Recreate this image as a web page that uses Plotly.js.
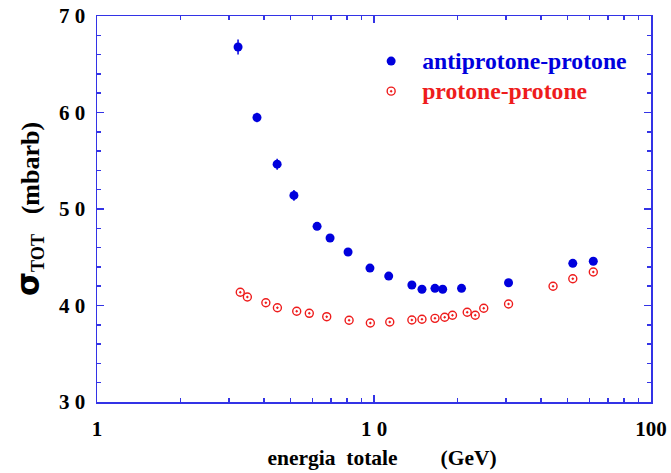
<!DOCTYPE html>
<html>
<head>
<meta charset="utf-8">
<script src="https://cdn.plot.ly/plotly-3.0.1.min.js"></script>
<style>html,body{margin:0;padding:0;background:#fff;}#chart{width:671px;height:473px;}</style>
</head>
<body>
<div id="chart"></div>
<script>
// antiproton-proton total cross section
const energyPbarP = [3.23, 3.78, 4.47, 5.14, 6.23, 6.94, 8.06, 9.67, 11.3, 13.7, 14.9, 16.6, 17.7, 20.7, 30.6, 52.2, 61.9];
const sigmaPbarP  = [66.79, 59.48, 54.65, 51.41, 48.2, 47.0, 45.54, 43.88, 43.05, 42.12, 41.68, 41.78, 41.68, 41.78, 42.36, 44.37, 44.58];
const errPbarP    = [0.78, 0.5, 0.57, 0.55, 0, 0, 0, 0, 0, 0, 0, 0, 0, 0, 0, 0, 0];
// proton-proton total cross section
const energyPP = [3.29, 3.49, 4.07, 4.48, 5.26, 5.84, 6.75, 8.13, 9.7, 11.4, 13.7, 14.9, 16.6, 18.0, 19.2, 21.7, 23.2, 24.9, 30.6, 44.3, 52.2, 61.9];
const sigmaPP  = [41.37, 40.88, 40.29, 39.77, 39.4, 39.19, 38.84, 38.47, 38.19, 38.29, 38.5, 38.57, 38.67, 38.78, 38.99, 39.3, 38.99, 39.71, 40.16, 42.0, 42.77, 43.47];

const xTickVals = [1, 10, 100];
const xTickText = ['1', '1 0', '100'];
const yTickVals = [30, 40, 50, 60, 70];
const yTickText = ['3 0', '4 0', '5 0', '6 0', '7 0'];
const xMinorVals = [2,3,4,5,6,7,8,9,20,30,40,50,60,70,80,90];

const blue = '#0000dd';
const red = '#ee1c1c';
const axisColor = '#3333e6';
const serif = 'Liberation Serif, Times New Roman, serif';

const traces = [
  {
    x: energyPbarP, y: sigmaPbarP, type: 'scatter', mode: 'markers',
    name: '<span style="color:' + blue + ';font-size:23.7px">antiprotone-protone</span>',
    marker: {color: blue, size: 9, symbol: 'circle'},
    error_y: {type: 'data', array: errPbarP, visible: true, color: blue, thickness: 1.5, width: 0}
  },
  {
    x: energyPP, y: sigmaPP, type: 'scatter', mode: 'markers',
    name: '<span style="color:' + red + ';font-size:23.7px">protone-protone</span>',
    marker: {color: red, size: 8, symbol: 'circle-open-dot', line: {color: red, width: 1.4}}
  }
];

const layout = {
  width: 671, height: 473,
  margin: {l: 97, r: 20, t: 16, b: 71},
  paper_bgcolor: '#fff', plot_bgcolor: '#fff',
  font: {family: serif, size: 20, color: '#000', weight: 'bold'},
  showlegend: true,
  legend: {
    x: 0.475, y: 0.935, xanchor: 'left', yanchor: 'top',
    itemwidth: 52, bgcolor: 'rgba(0,0,0,0)',
    font: {family: serif, size: 20.8, weight: 'bold'}
  },
  xaxis: {
    type: 'log', range: [0, 2],
    tickmode: 'array', tickvals: xTickVals, ticktext: xTickText,
    ticks: 'inside', ticklen: 7, tickwidth: 1.5, tickcolor: axisColor,
    minor: {tickmode: 'array', tickvals: xMinorVals, ticks: 'inside', ticklen: 4, tickwidth: 1.5, tickcolor: axisColor, showgrid: false},
    showline: true, linecolor: axisColor, linewidth: 1.5, mirror: 'allticks',
    showgrid: false, zeroline: false,
    ticklabelstandoff: 7,
    tickfont: {family: serif, size: 21, weight: 'bold'},
    title: {text: '\u200b\u00a0\u00a0\u00a0energia\u00a0\u00a0totale\u00a0\u00a0\u00a0\u00a0\u00a0\u00a0\u00a0\u00a0(GeV)', font: {family: serif, size: 21.5, weight: 'bold'}, standoff: 10}
  },
  yaxis: {
    range: [30, 70],
    tickmode: 'array', tickvals: yTickVals, ticktext: yTickText,
    ticks: 'inside', ticklen: 7, tickwidth: 1.5, tickcolor: axisColor,
    minor: {dtick: 2, ticks: 'inside', ticklen: 4, tickwidth: 1.5, tickcolor: axisColor, showgrid: false},
    showline: true, linecolor: axisColor, linewidth: 1.5, mirror: 'allticks',
    showgrid: false, zeroline: false,
    ticklabelstandoff: 6,
    tickfont: {family: serif, size: 21, weight: 'bold'},
    title: {text: '<span style="font-family:DejaVu Sans;font-size:31px">σ</span><sub>TOT</sub>\u00a0\u00a0\u00a0(mbarb)', font: {family: serif, size: 26, weight: 'bold'}, standoff: 12}
  }
};

Plotly.newPlot('chart', traces, layout, {displayModeBar: false, staticPlot: true});
</script>
</body>
</html>
